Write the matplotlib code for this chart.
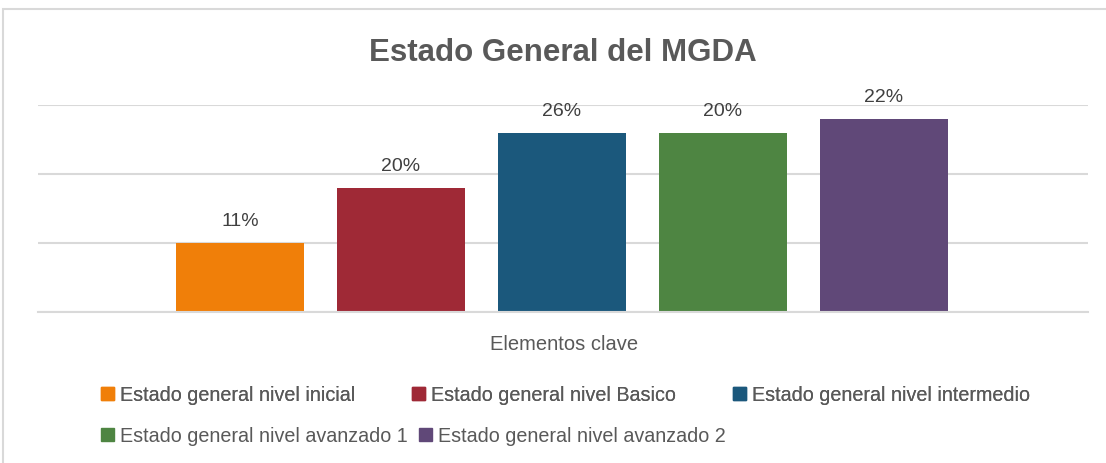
import matplotlib
matplotlib.use("Agg")
import matplotlib.pyplot as plt
from matplotlib.patches import Patch, Rectangle

plt.rcParams['font.family'] = ['Liberation Sans', 'DejaVu Sans']

# data
series = ["Estado general nivel inicial", "Estado general nivel Basico",
          "Estado general nivel intermedio", "Estado general nivel avanzado 1",
          "Estado general nivel avanzado 2"]
heights = [0.10, 0.18, 0.26, 0.26, 0.28]
labels = ["11%", "20%", "26%", "20%", "22%"]
colors = ["#F07F09", "#9F2936", "#1B587C", "#4E8542", "#604878"]

fig = plt.figure(figsize=(11.06, 4.64), dpi=100)
# outer chart border
fig.patches.append(Rectangle((3/1106, -0.1), 1.2, 1 - 10/464 + 0.1, transform=fig.transFigure,
                             fill=False, edgecolor="#D9D9D9", linewidth=1.5))

ax = fig.add_axes([38/1106, 1 - 313/464, 1050/1106, 207/464])
x = list(range(len(series)))
bars = ax.bar(x, heights, width=0.795, color=colors, zorder=2)
ax.bar_label(bars, labels=labels, padding=10, fontsize=14, color="#404040")

ax.set_xlim(-1.255, 5.267)
ax.set_ylim(0, 0.3)
ax.set_yticks([0, 0.1, 0.2, 0.3])
ax.yaxis.grid(True, color="#D9D9D9", linewidth=1.5, zorder=0)
ax.tick_params(left=False, bottom=False, labelleft=False, labelbottom=False)
for s in ["top", "right", "left"]:
    ax.spines[s].set_visible(False)
ax.spines["bottom"].set_color("#D9D9D9")
ax.spines["bottom"].set_linewidth(1.5)
ax.set_axisbelow(True)

fig.text(563/1106, 1 - 53/464, "Estado General del MGDA", ha="center", va="center",
         fontsize=22.5, fontweight="bold", color="#595959")
fig.text(564/1106, 1 - 344/464, "Elementos clave", ha="center", va="center",
         fontsize=14.5, color="#595959")

handles = [Patch(color=c) for c in colors]
kw = dict(loc="center left", bbox_transform=fig.transFigure, frameon=False, fontsize=14.2,
          handlelength=0.65, handleheight=0.65, handletextpad=0.3, borderpad=0,
          borderaxespad=0, labelcolor="#595959")
leg1 = fig.legend(handles[:3], series[:3], ncol=3, columnspacing=2.9,
                  bbox_to_anchor=(101/1106, 1 - 396/464), **kw)
leg2 = fig.legend(handles[3:], series[3:], ncol=2, columnspacing=0.6,
                  bbox_to_anchor=(101/1106, 1 - 437/464), **kw)
fig.add_artist(leg1)

fig.savefig("out.png", dpi=100)
